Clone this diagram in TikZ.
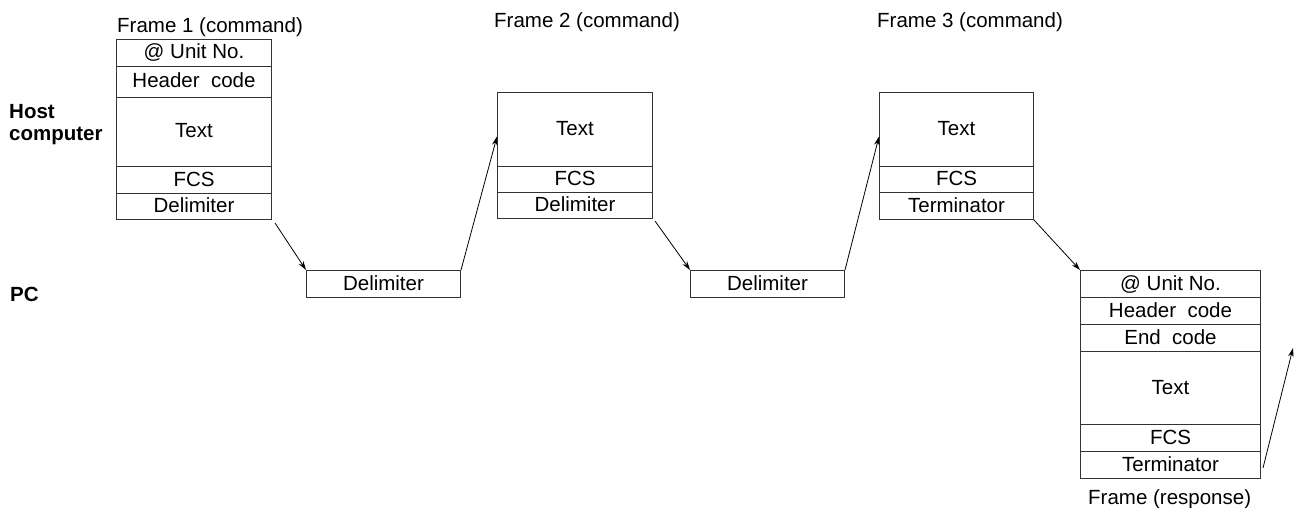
\documentclass[tikz,border=0pt]{standalone}
\usepackage{fontspec}
\setmainfont{Liberation Sans}
\usetikzlibrary{arrows.meta,calc}
\begin{document}
\begin{tikzpicture}[x=1pt,y=-1pt,
  txt/.style={font=\fontsize{20.5}{22}\selectfont, inner sep=0pt},
  lbl/.style={font=\fontsize{20.5}{21.7}\selectfont\bfseries, inner sep=0pt, align=left},
  cell/.style={txt, draw=black!80, line width=1pt, rectangle, anchor=north west,
    text height=15pt, text depth=3pt},
  conn/.style={line width=0.8pt, -{Stealth[length=9pt,width=5.5pt]}}
]
\useasboundingbox (0,0) rectangle (1295,508);

% labels
\node[lbl, anchor=base west] (host) at (9,140) {Host\\computer};
\node[lbl, anchor=base west] (pc) at (10,301) {PC};

% Frame 1
\node[txt, anchor=base west] (t1) at (117,33) {Frame 1 (command)};
\node[cell, minimum width=155pt, minimum height=27pt] (f1a) at (116,39) {@ Unit No.};
\node[cell, minimum width=155pt, minimum height=31pt] (f1b) at (116,66) {Header\ \ code};
\node[cell, minimum width=155pt, minimum height=69pt] (f1c) at (116,97) {Text};
\node[cell, minimum width=155pt, minimum height=27pt] (f1d) at (116,166) {FCS};
\node[cell, minimum width=155pt, minimum height=26pt] (f1e) at (116,193) {Delimiter};

% Delimiter 1
\node[cell, minimum width=154pt, minimum height=27pt] (d1) at (306,270) {Delimiter};

% Frame 2
\node[txt, anchor=base west] (t2) at (494,28) {Frame 2 (command)};
\node[cell, minimum width=155pt, minimum height=74pt] (f2a) at (497,92) {Text};
\node[cell, minimum width=155pt, minimum height=26pt] (f2b) at (497,166) {FCS};
\node[cell, minimum width=155pt, minimum height=26pt] (f2c) at (497,192) {Delimiter};

% Delimiter 2
\node[cell, minimum width=154pt, minimum height=27pt] (d2) at (690,270) {Delimiter};

% Frame 3
\node[txt, anchor=base west] (t3) at (877,28) {Frame 3 (command)};
\node[cell, minimum width=154pt, minimum height=74pt] (f3a) at (879,92) {Text};
\node[cell, minimum width=154pt, minimum height=26pt] (f3b) at (879,166) {FCS};
\node[cell, minimum width=154pt, minimum height=27pt] (f3c) at (879,192) {Terminator};

% Response frame
\node[cell, minimum width=180pt, minimum height=27pt] (r1) at (1080,270) {@ Unit No.};
\node[cell, minimum width=180pt, minimum height=27pt] (r2) at (1080,297) {Header\ \ code};
\node[cell, minimum width=180pt, minimum height=27pt] (r3) at (1080,324) {End\ \ code};
\node[cell, minimum width=180pt, minimum height=73pt] (r4) at (1080,351) {Text};
\node[cell, minimum width=180pt, minimum height=27pt] (r5) at (1080,424) {FCS};
\node[cell, minimum width=180pt, minimum height=27pt] (r6) at (1080,451) {Terminator};
\node[txt, anchor=base west] (tr) at (1088,504) {Frame (response)};

\coordinate (free) at (1293,348);

% connectors
\draw[conn] ([shift={(3pt,-3pt)}]f1e.south east) -- (d1.north west);
\draw[conn] (d1.north east) -- ([yshift=-7pt]f2a.west);
\draw[conn] ([shift={(2pt,-2pt)}]f2c.south east) -- (d2.north west);
\draw[conn] (d2.north east) -- ([yshift=-7pt]f3a.west);
\draw[conn] (f3c.south east) -- (r1.north west);
\draw[conn] ([shift={(2pt,11pt)}]r6.south east) -- (free);
\end{tikzpicture}
\end{document}
